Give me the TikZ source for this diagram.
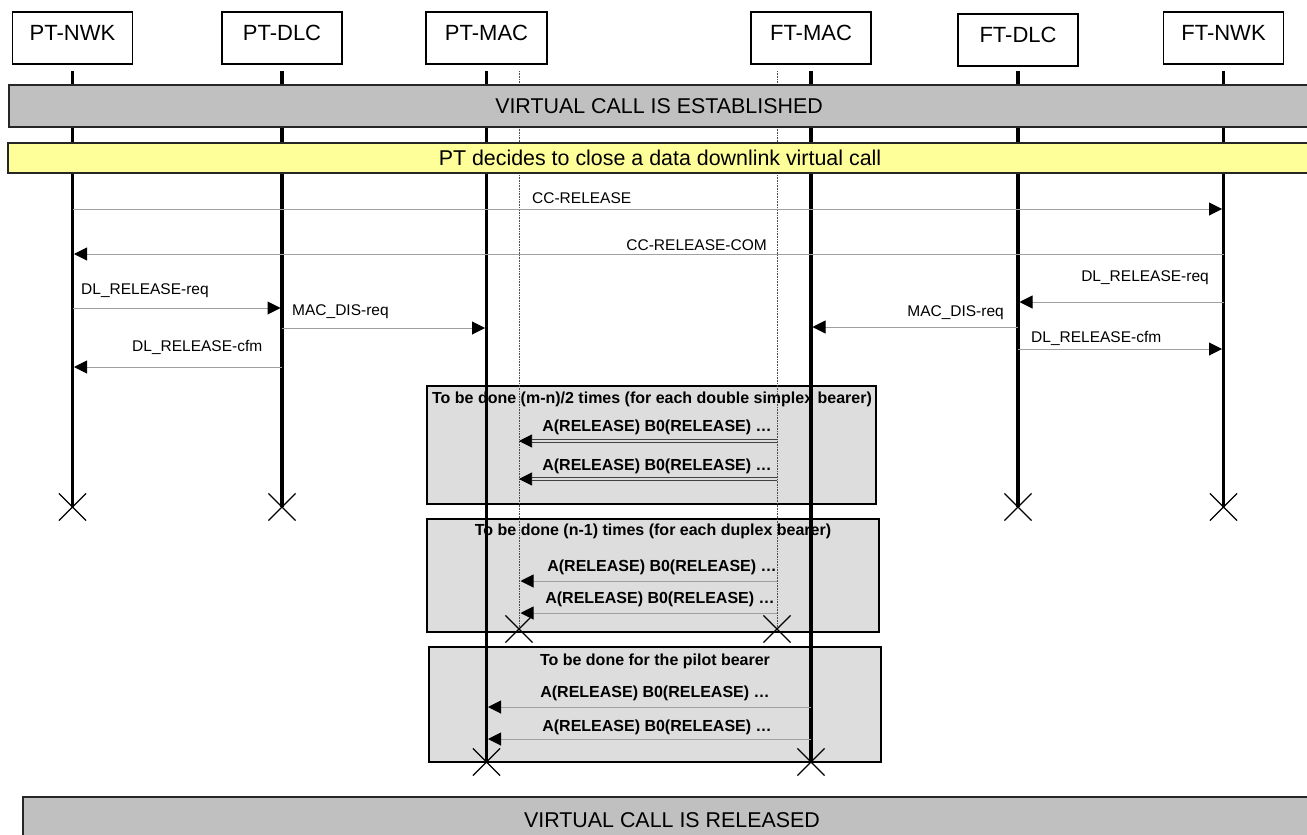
\documentclass[tikz,border=0pt]{standalone}
\usepackage{fontspec}
\setmainfont{Liberation Sans}
\usetikzlibrary{arrows.meta,shapes.misc}
\definecolor{bargray}{HTML}{C0C0C0}
\definecolor{boxgray}{HTML}{DDDDDD}
\definecolor{baryellow}{HTML}{FFFF99}
\definecolor{msggray}{HTML}{A0A0A0}
\begin{document}
\begin{tikzpicture}[x=1pt,y=-1pt,
  hdr/.style={draw, line width=1.2pt, minimum width=120pt, minimum height=52pt, inner sep=0pt,
    font=\fontsize{22}{26}\selectfont, text height=15.5pt, text depth=10pt},
  life/.style={line width=3.2pt},
  dotl/.style={densely dotted, line width=0.6pt, black!70},
  bar/.style={draw=black!85, line width=1.3pt},
  bartxt/.style={font=\fontsize{21.4}{25}\selectfont, inner sep=0pt},
  grp/.style={draw, fill=boxgray, line width=1.6pt},
  grptxt/.style={font=\bfseries\fontsize{16}{19}\selectfont, inner sep=0pt},
  lbl/.style={font=\fontsize{15.5}{18}\selectfont, inner sep=0pt},
  msg/.style={draw=msggray, line width=1pt, shorten >=1.5pt,
    -{Triangle[length=13pt,width=13pt,color=black]}},
  dmsg/.style={draw=black!75, double=boxgray, double distance=1.8pt, line width=0.7pt,
    -{Triangle[length=13pt,width=13pt,color=black]}},
  xx/.style={draw, cross out, minimum size=26pt, inner sep=0pt, line width=1.2pt}
]
\useasboundingbox (0,0) rectangle (1307,835);

% header boxes
\node[hdr] (pnwk) at (72.5,38) {PT-NWK};
\node[hdr] (pdlc) at (282,38) {PT-DLC};
\node[hdr, minimum width=121pt] (pmac) at (486.5,38) {PT-MAC};
\node[hdr] (fmac) at (811,38) {FT-MAC};
\node[hdr, minimum width=120pt] (fdlc) at (1018,40) {FT-DLC};
\node[hdr] (fnwk) at (1223.5,38) {FT-NWK};

\coordinate (top) at (0,71);
\coordinate (dl) at (519,71);
\coordinate (dr) at (777,71);
\coordinate (endA) at (0,507);
\coordinate (endB) at (0,629);
\coordinate (endC) at (0,762);

% group boxes
\draw[grp] (427,386) rectangle (876,504);
\draw[grp] (427,519) rectangle (879,632);
\draw[grp] (429,647) rectangle (881,762);
\node[grptxt] (t1) at (652,399) {To be done (m-n)/2 times (for each double simplex bearer)};
\node[grptxt] (t2) at (653,531) {To be done (n-1) times (for each duplex bearer)};
\node[grptxt] (t3) at (655,661) {To be done for the pilot bearer};

% lifelines
\draw[life] (pnwk |- top) -- (pnwk |- endA);
\draw[life] (pdlc |- top) -- (pdlc |- endA);
\draw[life] (fdlc |- top) -- (fdlc |- endA);
\draw[life] (fnwk |- top) -- (fnwk |- endA);
\draw[life] (pmac |- top) -- (pmac |- endC);
\draw[life] (fmac |- top) -- (fmac |- endC);
\draw[dotl] (dl) -- (dl |- endB);
\draw[dotl] (dr) -- (dr |- endB);

% bars
\draw[bar, fill=bargray] (9,85) rectangle (1315,127);
\node[bartxt] (est) at (659,106) {VIRTUAL CALL IS ESTABLISHED};
\draw[bar, fill=baryellow] (8,143) rectangle (1315,173);
\node[bartxt] (dec) at (660,158) {PT decides to close a data downlink virtual call};
\draw[bar, fill=bargray] (23,797) rectangle (1320,850);
\node[bartxt] (rel) at (672,820) {VIRTUAL CALL IS RELEASED};

% messages
\coordinate (m1) at (0,209);
\coordinate (m2) at (0,254);
\coordinate (m3) at (0,308);
\coordinate (m4) at (0,328);
\coordinate (m5) at (0,367);
\coordinate (m6) at (0,302);
\coordinate (m7) at (0,327);
\coordinate (m8) at (0,349);
\draw[msg] (pnwk |- m1) -- (fnwk |- m1);
\node[lbl, anchor=west] at (532,198) {CC-RELEASE};
\draw[msg] (fnwk |- m2) -- (pnwk |- m2);
\node[lbl, anchor=east] at (767,245) {CC-RELEASE-COM};
\draw[msg] (pnwk |- m3) -- (pdlc |- m3);
\node[lbl, anchor=west] at (81,291) {DL\_RELEASE-req};
\draw[msg] (pdlc |- m4) -- (pmac |- m4);
\node[lbl, anchor=west] at (292,312) {MAC\_DIS-req};
\draw[msg] (pdlc |- m5) -- (pnwk |- m5);
\node[lbl, anchor=west] at (132,347) {DL\_RELEASE-cfm};
\draw[msg] (fnwk |- m6) -- (fdlc |- m6);
\node[lbl, anchor=east] at (1209,278) {DL\_RELEASE-req};
\draw[msg] (fdlc |- m7) -- (fmac |- m7);
\node[lbl, anchor=east] at (1004,313) {MAC\_DIS-req};
\draw[msg] (fdlc |- m8) -- (fnwk |- m8);
\node[lbl, anchor=west] at (1031,338) {DL\_RELEASE-cfm};

% group messages
\coordinate (g1) at (0,441);
\coordinate (g2) at (0,479);
\coordinate (g3) at (0,581);
\coordinate (g4) at (0,613);
\coordinate (g5) at (0,707);
\coordinate (g6) at (0,739);
\draw[dmsg] (dr |- g1) -- (dl |- g1);
\node[grptxt] at (657,427) {A(RELEASE) B0(RELEASE) …};
\draw[dmsg] (dr |- g2) -- (dl |- g2);
\node[grptxt] at (657,466) {A(RELEASE) B0(RELEASE) …};
\draw[msg] (dr |- g3) -- (dl |- g3);
\node[grptxt] at (662,567) {A(RELEASE) B0(RELEASE) …};
\draw[msg] (dr |- g4) -- (dl |- g4);
\node[grptxt] at (660,599) {A(RELEASE) B0(RELEASE) …};
\draw[msg] (fmac |- g5) -- (pmac |- g5);
\node[grptxt] at (655,693) {A(RELEASE) B0(RELEASE) …};
\draw[msg] (fmac |- g6) -- (pmac |- g6);
\node[grptxt] at (657,727) {A(RELEASE) B0(RELEASE) …};

% crosses
\node[xx] at (pnwk |- endA) {};
\node[xx] at (pdlc |- endA) {};
\node[xx] at (fdlc |- endA) {};
\node[xx] at (fnwk |- endA) {};
\node[xx] at (dl |- endB) {};
\node[xx] at (dr |- endB) {};
\node[xx] at (pmac |- endC) {};
\node[xx] at (fmac |- endC) {};
\end{tikzpicture}
\end{document}
